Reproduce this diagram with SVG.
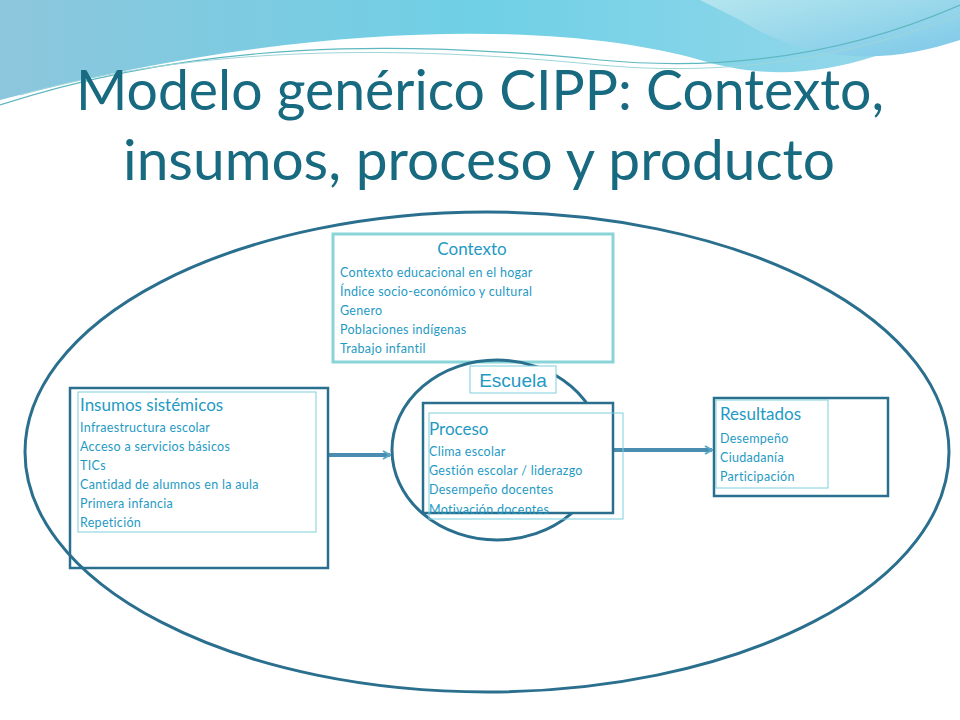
<svg xmlns="http://www.w3.org/2000/svg" width="960" height="720" viewBox="0 0 960 720">
<defs>
<linearGradient id="bg1" x1="0" y1="0" x2="1" y2="0"><stop offset="0" stop-color="#8cc6dc"/><stop offset="0.5" stop-color="#6fd0e6"/><stop offset="1" stop-color="#9ad8ea"/></linearGradient>
<linearGradient id="bg2" x1="0" y1="0" x2="1" y2="1"><stop offset="0" stop-color="#b4e6ee"/><stop offset="1" stop-color="#7dc8e8"/></linearGradient>
<marker id="ah" markerWidth="10" markerHeight="10" refX="8" refY="5" orient="auto" markerUnits="userSpaceOnUse"><path d="M1,1 L8,5 L1,9" fill="none" stroke="#5aa8c8" stroke-width="2"/></marker>
<style>
.t{font-family:Lato,"Open Sans",sans-serif;fill:#1f9ac4}
.s{font-size:12.5px;letter-spacing:0.3px}
.h{font-size:17px}
.outer{fill:none;stroke:#2a6f8e;stroke-width:2.5}
.inner{fill:none;stroke:#7fd0dc;stroke-width:1}
.conn{stroke:#4a8db0;stroke-width:4;fill:none}
</style>
</defs>
<rect width="960" height="720" fill="#ffffff"/>
<path d="M0,0 H960 V20 C880,60 800,90 700,60 C560,20 300,20 0,100 Z" fill="url(#bg1)"/>
<path d="M700,0 H960 V40 C900,60 820,70 740,20 Z" fill="url(#bg2)"/>
<path d="M0,105 C200,40 400,40 600,60 C760,75 880,40 960,5" fill="none" stroke="#5fb8c0" stroke-width="1.2"/>
<path d="M20,95 C200,45 400,45 600,65 C760,80 880,45 960,15" fill="none" stroke="#9ed6da" stroke-width="1"/>
<text x="76" y="110" textLength="808" lengthAdjust="spacingAndGlyphs" font-family="Lato,'Open Sans',sans-serif" font-size="56" fill="#176a80">Modelo genérico CIPP: Contexto,</text>
<text x="123" y="180" textLength="712" lengthAdjust="spacingAndGlyphs" font-family="Lato,'Open Sans',sans-serif" font-size="56" fill="#176a80">insumos, proceso y producto</text>
<g id="world"><ellipse cx="487" cy="452" rx="462" ry="240" fill="none" stroke="#2a6f8e" stroke-width="3"/></g>
<g id="connectors">
<line class="conn" x1="328" y1="455" x2="390" y2="455" marker-end="url(#ah)"/>
<line class="conn" x1="602" y1="450" x2="712" y2="450" marker-end="url(#ah)"/>
</g>
<g id="contexto">
<rect x="333" y="234" width="280" height="128" fill="none" stroke="#88d4d8" stroke-width="3"/>
<text class="t h" x="472" y="255" text-anchor="middle">Contexto</text>
<text class="t s" x="340" y="277">Contexto educacional en el hogar</text>
<text class="t s" x="340" y="296">Índice socio-económico y cultural</text>
<text class="t s" x="340" y="315">Genero</text>
<text class="t s" x="340" y="334">Poblaciones indígenas</text>
<text class="t s" x="340" y="353">Trabajo infantil</text>
</g>
<g id="escuela">
<ellipse cx="497" cy="450" rx="105" ry="90" fill="none" stroke="#2a6f8e" stroke-width="3"/>
<rect x="470" y="366" width="86" height="27" fill="#fff" stroke="#7fd0dc" stroke-width="1"/>
<text x="513" y="387" text-anchor="middle" font-size="19" fill="#1f9ac4" font-family="'Liberation Sans',sans-serif">Escuela</text>
</g>
<g id="insumos">
<rect class="outer" x="70" y="388" width="258" height="180"/>
<rect class="inner" x="78" y="392" width="238" height="140"/>
<text class="t h" x="80" y="411">Insumos sistémicos</text>
<text class="t s" x="80" y="432">Infraestructura escolar</text>
<text class="t s" x="80" y="451">Acceso a servicios básicos</text>
<text class="t s" x="80" y="470">TICs</text>
<text class="t s" x="80" y="489">Cantidad de alumnos en la aula</text>
<text class="t s" x="80" y="508">Primera infancia</text>
<text class="t s" x="80" y="527">Repetición</text>
</g>
<g id="proceso">
<rect x="423" y="403" width="190" height="110" fill="#fff" stroke="#2a6f8e" stroke-width="2.5"/>
<rect class="inner" x="429" y="413" width="194" height="106"/>
<text class="t h" x="429" y="435">Proceso</text>
<text class="t s" x="429" y="456">Clima escolar</text>
<text class="t s" x="429" y="475">Gestión escolar / liderazgo</text>
<text class="t s" x="429" y="494">Desempeño docentes</text>
<text class="t s" x="429" y="514">Motivación docentes</text>
</g>
<g id="resultados">
<rect class="outer" x="714" y="398" width="174" height="98"/>
<rect class="inner" x="716" y="400" width="112" height="88"/>
<text class="t h" x="720" y="420">Resultados</text>
<text class="t s" x="720" y="443">Desempeño</text>
<text class="t s" x="720" y="462">Ciudadanía</text>
<text class="t s" x="720" y="481">Participación</text>
</g>
</svg>
